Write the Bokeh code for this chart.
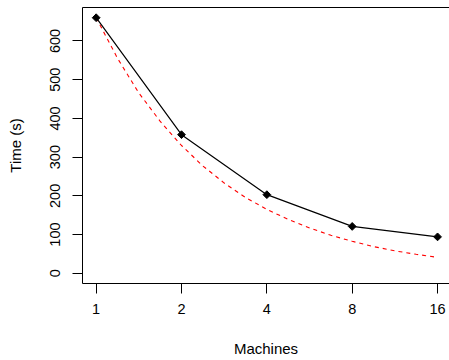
import numpy as np
from bokeh.plotting import figure
from bokeh.models import Range1d, FixedTicker, LinearAxis
from bokeh.embed import file_html
from bokeh.resources import INLINE

machines = [1, 2, 4, 8, 16]
time_s = [660, 358, 203, 121, 94]

ideal_machines = [1, 1.19, 1.41, 1.68, 2, 2.38, 2.83, 3.36, 4, 4.76, 5.66, 6.73, 8, 9.51, 11.3, 13.45, 16]
ideal_time = [660, 555, 467, 393, 330, 277, 233, 196, 165, 139, 117, 98, 82.5, 69, 58, 49, 41]

x_ticks = [1, 2, 4, 8, 16]
x_tick_labels = ["1", "2", "4", "8", "16"]
y_ticks = [0, 100, 200, 300, 400, 500, 600]

FONT = "Liberation Sans"

p = figure(width=449, height=360, output_backend="svg", toolbar_location=None,
           x_axis_type="log",
           x_range=Range1d(2 ** -0.16, 2 ** 4.14),
           y_range=Range1d(-26.4, 686.4),
           min_border_left=82, min_border_right=0, min_border_top=7, min_border_bottom=77)
p.outline_line_color = None
p.xgrid.visible = False
p.ygrid.visible = False
p.background_fill_color = "white"
p.border_fill_color = "white"

p.line(ideal_machines, ideal_time, line_color="#FF0000", line_width=1.1, line_dash="4 4")
p.line(machines, time_s, line_color="black", line_width=1.2)
p.scatter(machines, time_s, marker="square", angle=np.pi / 4, size=5.5,
          fill_color="black", line_color="black")

xa = p.xaxis[0]
xa.ticker = FixedTicker(ticks=x_ticks)
xa.major_label_overrides = {t: l for t, l in zip(x_ticks, x_tick_labels)}
xa.minor_tick_line_color = None
xa.major_tick_in = 0
xa.major_tick_out = 10
xa.major_label_standoff = 10
xa.axis_label = "Machines"
xa.axis_label_standoff = 23

ya = p.yaxis[0]
ya.ticker = FixedTicker(ticks=y_ticks)
ya.minor_tick_line_color = None
ya.major_tick_in = 0
ya.major_tick_out = 10
ya.major_label_orientation = "vertical"
ya.major_label_standoff = 12
ya.axis_label = "Time (s)"
ya.axis_label_standoff = 24

for ax in (xa, ya):
    ax.axis_line_color = "black"
    ax.axis_line_width = 1
    ax.major_tick_line_color = "black"
    ax.major_label_text_font = FONT
    ax.major_label_text_font_size = "14.5px"
    ax.major_label_text_color = "black"
    ax.axis_label_text_font = FONT
    ax.axis_label_text_font_size = "15px"
    ax.axis_label_text_font_style = "normal"
    ax.axis_label_text_color = "black"

top = LinearAxis(ticker=FixedTicker(ticks=[]), major_tick_line_color=None,
                 minor_tick_line_color=None, major_label_text_font_size="0px",
                 major_label_standoff=0, axis_line_color="black", axis_line_width=1)
p.add_layout(top, "above")

open("out.html", "w").write(file_html(p, INLINE))
